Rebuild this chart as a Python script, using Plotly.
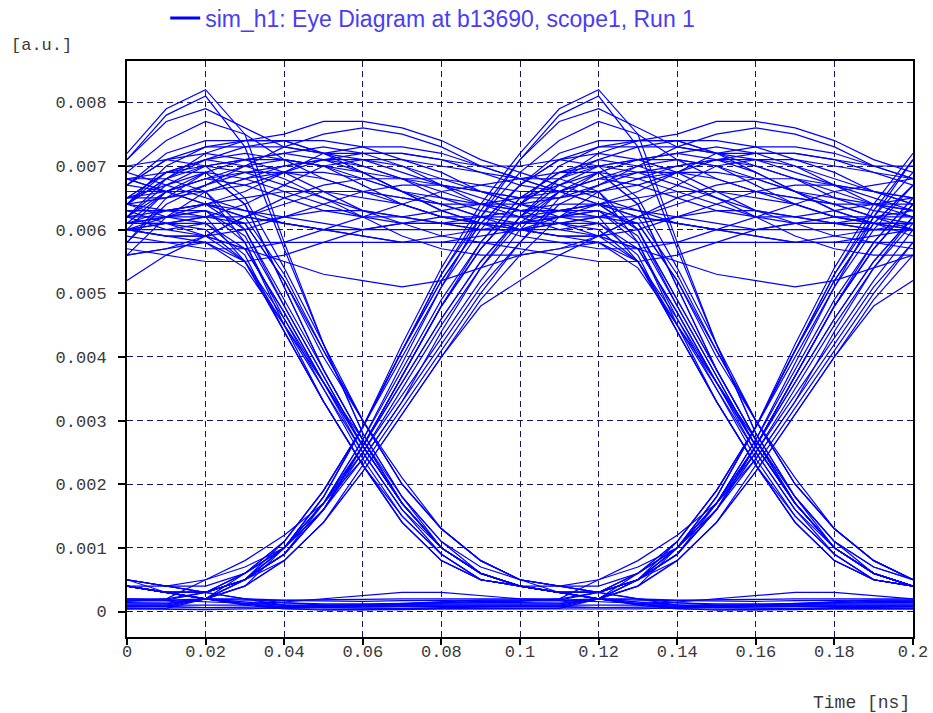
import plotly.graph_objects as go

# ---- time axis of one 2-UI window (ns) ----
t_ns = [0.00, 0.01, 0.02, 0.03, 0.04, 0.05, 0.06, 0.07, 0.08, 0.09, 0.10,
        0.11, 0.12, 0.13, 0.14, 0.15, 0.16, 0.17, 0.18, 0.19, 0.20]

# ---- recorded scope waveform [a.u.], one row = one 0.1 ns unit interval ----
signal_a = [
    [.0064, .0069, .0071, .0072, .0071, .0070, .0069, .0068, .0068, .0067],
    [.0066, .0066, .0066, .0060, .0048, .0037, .0026, .0017, .0010, .0006],
    [.0004, .0004, .0005, .0007, .0010, .0016, .0026, .0037, .0048, .0057],
    [.0064, .0068, .0071, .0073, .0074, .0074, .0073, .0071, .0069, .0066],
    [.0064, .0062, .0061, .0061, .0062, .0063, .0063, .0062, .0061, .0060],
    [.0060, .0061, .0062, .0055, .0044, .0033, .0023, .0014, .0008, .0005],
    [.0004, .0003, .0002, .00015, .0001, .0001, .0001, .00011, .00012, .00012],
    [.00012, .00012, .0002, .0006, .0011, .0019, .0029, .0041, .0053, .0063],
    [.0071, .0078, .0081, .0073, .0057, .0042, .0028, .0018, .0011, .0006],
    [.0004, .0003, .0003, .0006, .0010, .0017, .0026, .0036, .0046, .0055],
    [.0062, .0067, .0070, .0071, .0072, .0073, .0072, .0070, .0067, .0064],
    [.0062, .0060, .0059, .0055, .0045, .0036, .0027, .0018, .0011, .0007],
    [.0005, .0003, .0002, .0002, .00018, .00018, .00019, .0002, .0002, .0002],
    [.0002, .00018, .00016, .00013, .0001, .00009, .0001, .00013, .00016, .00018],
    [.00018, .00018, .0003, .0006, .0010, .0016, .0024, .0033, .0042, .0051],
    [.0058, .0064, .0067, .0069, .0069, .0068, .0066, .0064, .0062, .0061],
]
signal_b = [
    [.0061, .0062, .0064, .0066, .0069, .0072, .0073, .0073, .0072, .0070],
    [.0068, .0066, .0064, .0063, .0062, .0061, .0060, .0060, .0060, .0060],
    [.0060, .0062, .0063, .0061, .0052, .0041, .0030, .0020, .0013, .0008],
    [.0005, .0004, .0004, .0006, .0010, .0017, .0025, .0034, .0043, .0052],
    [.0060, .0066, .0069, .0064, .0051, .0038, .0027, .0017, .0010, .0006],
    [.0004, .0003, .0002, .00012, .00006, .00006, .00005, .00005, .00006, .00007],
    [.00007, .00008, .0002, .0005, .0009, .0016, .0026, .0037, .0048, .0057],
    [.0064, .0070, .0073, .0074, .0074, .0072, .0070, .0068, .0066, .0064],
    [.0063, .0063, .0063, .0058, .0046, .0035, .0024, .0015, .0009, .0005],
    [.0004, .0003, .0003, .0005, .0010, .0018, .0029, .0041, .0052, .0061],
    [.0067, .0071, .0072, .0071, .0069, .0066, .0063, .0061, .0059, .0058],
    [.0057, .0056, .0055, .0055, .0056, .0058, .0060, .0061, .0062, .0062],
    [.0062, .0063, .0064, .0062, .0053, .0041, .0030, .0021, .0013, .0008],
    [.0005, .0004, .0003, .0002, .00014, .0001, .0001, .0001, .0001, .0001],
    [.0001, .0001, .0001, .0001, .00015, .0002, .00025, .0003, .0003, .00025],
    [.0002, .0002, .0003, .0005, .0008, .0014, .0023, .0032, .0041, .0050],
]
signal_c = [
    [.0058, .0065, .0069, .0064, .0051, .0038, .0027, .0017, .0010, .0006],
    [.0004, .0003, .0003, .0005, .0009, .0017, .0027, .0039, .0051, .0062],
    [.0071, .0077, .0079, .0076, .0073, .0072, .0072, .0072, .0071, .0069],
    [.0067, .0066, .0066, .0067, .0069, .0071, .0071, .0070, .0068, .0066],
    [.0064, .0063, .0062, .0062, .0061, .0060, .0059, .0058, .0058, .0059],
    [.0060, .0061, .0061, .0057, .0047, .0036, .0026, .0017, .0010, .0006],
    [.0004, .0003, .0002, .0001, .00004, .00003, .00003, .00004, .00004, .00004],
    [.00004, .00005, .0002, .0005, .0010, .0017, .0026, .0036, .0046, .0055],
    [.0062, .0066, .0068, .0069, .0070, .0071, .0072, .0072, .0071, .0070],
    [.0070, .0071, .0070, .0065, .0054, .0042, .0030, .0020, .0013, .0008],
    [.0005, .0004, .0003, .0005, .0010, .0018, .0029, .0042, .0054, .0064],
    [.0072, .0079, .0082, .0075, .0058, .0042, .0028, .0018, .0010, .0006],
    [.0004, .0003, .0002, .00018, .00017, .00016, .00016, .00017, .00018, .00018],
    [.00018, .00018, .0002, .0004, .0008, .0014, .0022, .0031, .0040, .0048],
    [.0052, .0056, .0059, .0062, .0064, .0066, .0066, .0065, .0064, .0062],
    [.0061, .0061, .0062, .0064, .0067, .0070, .0071, .0071, .0070, .0069],
]
signal_d = [
    [.0068, .0068, .0066, .0058, .0045, .0033, .0023, .0014, .0008, .0005],
    [.0004, .0003, .0002, .00015, .00013, .00012, .00012, .00013, .00014, .00014],
    [.00014, .00013, .0002, .0005, .0011, .0019, .0029, .0040, .0051, .0060],
    [.0067, .0072, .0074, .0074, .0075, .0077, .0077, .0076, .0074, .0071],
    [.0069, .0067, .0065, .0063, .0061, .0060, .0059, .0058, .0058, .0058],
    [.0058, .0058, .0058, .0055, .0046, .0036, .0026, .0017, .0010, .0006],
    [.0004, .0003, .0003, .0005, .0009, .0016, .0026, .0037, .0048, .0058],
    [.0065, .0069, .0070, .0069, .0067, .0065, .0063, .0062, .0061, .0060],
    [.0060, .0060, .0061, .0056, .0044, .0033, .0023, .0014, .0008, .0005],
    [.0004, .0003, .0002, .00012, .00008, .00008, .00008, .00007, .00007, .00008],
    [.00008, .00008, .00006, .00005, .00005, .00006, .00008, .00012, .00015, .00015],
    [.00015, .00015, .0002, .0004, .0008, .0014, .0022, .0031, .0040, .0049],
    [.0056, .0062, .0066, .0068, .0069, .0069, .0068, .0066, .0064, .0062],
    [.0060, .0059, .0058, .0054, .0045, .0035, .0025, .0016, .0010, .0006],
    [.0004, .0003, .0003, .0005, .0009, .0016, .0026, .0037, .0048, .0057],
    [.0064, .0068, .0070, .0071, .0071, .0070, .0068, .0066, .0065, .0064],
]
signal_e = [
    [.0063, .0063, .0064, .0065, .0066, .0066, .0065, .0064, .0062, .0061],
    [.0060, .0059, .0059, .0060, .0062, .0064, .0066, .0067, .0067, .0066],
    [.0065, .0065, .0066, .0068, .0070, .0071, .0070, .0068, .0065, .0063],
    [.0062, .0062, .0062, .0061, .0052, .0040, .0030, .0020, .0013, .0008],
    [.0005, .0004, .0003, .0002, .0001, .00006, .00005, .00005, .00005, .00005],
    [.00005, .00005, .00006, .00007, .00009, .0001, .0001, .0001, .0001, .0001],
    [.0001, .0001, .0002, .0004, .0010, .0018, .0029, .0041, .0052, .0061],
    [.0067, .0071, .0073, .0073, .0073, .0072, .0071, .0069, .0067, .0065],
    [.0063, .0061, .0059, .0057, .0055, .0053, .0052, .0051, .0052, .0054],
    [.0056, .0057, .0058, .0058, .0058, .0058, .0058, .0058, .0059, .0060],
    [.0061, .0063, .0064, .0060, .0049, .0038, .0027, .0017, .0010, .0006],
    [.0004, .0003, .0003, .0006, .0011, .0019, .0029, .0041, .0053, .0062],
    [.0069, .0074, .0077, .0075, .0071, .0068, .0066, .0065, .0064, .0064],
    [.0064, .0065, .0067, .0070, .0073, .0075, .0076, .0075, .0073, .0070],
    [.0068, .0066, .0064, .0062, .0061, .0060, .0060, .0061, .0061, .0061],
    [.0061, .0061, .0060, .0055, .0044, .0033, .0023, .0015, .0009, .0005],
]
signal_f = [
    [.0004, .0003, .0003, .0005, .0010, .0017, .0027, .0038, .0049, .0058],
    [.0065, .0069, .0071, .0070, .0068, .0065, .0062, .0059, .0057, .0056],
    [.0056, .0057, .0059, .0062, .0065, .0067, .0068, .0068, .0067, .0066],
    [.0065, .0066, .0068, .0070, .0071, .0070, .0067, .0064, .0062, .0061],
    [.0061, .0062, .0063, .0059, .0048, .0037, .0026, .0017, .0010, .0006],
    [.0004, .0003, .0003, .0005, .0009, .0016, .0025, .0035, .0045, .0054],
    [.0061, .0066, .0068, .0067, .0065, .0063, .0062, .0062, .0063, .0064],
    [.0065, .0067, .0069, .0071, .0072, .0071, .0069, .0066, .0063, .0061],
    [.0060, .0059, .0059, .0057, .0047, .0036, .0025, .0016, .0009, .0005],
    [.0004, .0003, .0002, .00012, .00005, .00002, .00002, .00003, .00004, .00004],
    [.00004, .00003, .00003, .00004, .00006, .00008, .0001, .00012, .00014, .00016],
    [.00016, .0002, .0005, .0008, .0012, .0017, .0024, .0033, .0044, .0054],
    [.0062, .0068, .0072, .0074, .0074, .0072, .0069, .0066, .0063, .0061],
    [.0059, .0058, .0057, .0057, .0058, .0060, .0062, .0064, .0066, .0067],
    [.0068, .0069, .0069, .0068, .0066, .0064, .0062, .0061, .0061, .0062],
    [.0063, .0064, .0064, .0060, .0049, .0038, .0027, .0018, .0011, .0007],
]
signal_end = [.0005]

# ---- axis ticks ----
x_tick_vals = [0, 0.02, 0.04, 0.06, 0.08, 0.1, 0.12, 0.14, 0.16, 0.18, 0.2]
x_tick_text = ["0", "0.02", "0.04", "0.06", "0.08", "0.1", "0.12", "0.14", "0.16", "0.18", "0.2"]
y_tick_vals = [0, 0.001, 0.002, 0.003, 0.004, 0.005, 0.006, 0.007, 0.008]
y_tick_text = ["0", "0.001", "0.002", "0.003", "0.004", "0.005", "0.006", "0.007", "0.008"]

legend_name = "sim_h1: Eye Diagram at b13690, scope1, Run 1"

# one continuous record, sliced into overlapping 2-UI windows (1 UI step)
signal = []
for block in (signal_a, signal_b, signal_c, signal_d, signal_e, signal_f):
    for ui in block:
        signal.extend(ui)
signal.extend(signal_end)

n_win = len(t_ns)
samples_per_ui = 10

fig = go.Figure()
start = 0
while start + n_win <= len(signal):
    fig.add_trace(go.Scatter(
        x=t_ns, y=signal[start:start + n_win], mode="lines",
        line=dict(color="#0000ff", width=1.2),
        showlegend=False, hoverinfo="skip"))
    start += samples_per_ui

# legend entry
fig.add_trace(go.Scatter(x=[None], y=[None], mode="lines", name=legend_name,
                         line=dict(color="#0000ff", width=3), showlegend=True))

mono = "Liberation Mono, Courier New, monospace"
axis_common = dict(
    showgrid=True, gridcolor="#14146e", gridwidth=1, griddash="6px,4px",
    showline=True, linecolor="black", linewidth=2, mirror=True,
    ticks="outside", tickcolor="black", tickwidth=1.5,
    tickfont=dict(family=mono, size=17, color="#3a3a3a"),
    zeroline=False, fixedrange=True,
)

fig.update_xaxes(range=[0, 0.2], tickvals=x_tick_vals, ticktext=x_tick_text,
                 ticklen=6, ticklabelstandoff=-8, **axis_common)
fig.update_yaxes(range=[-0.0004, 0.00865], tickvals=y_tick_vals, ticktext=y_tick_text,
                 ticklen=7, ticklabelstandoff=8, **axis_common)

fig.update_layout(
    width=933, height=713,
    margin=dict(l=127, r=20, t=61, b=76, autoexpand=False),
    paper_bgcolor="white", plot_bgcolor="white",
    showlegend=True,
    legend=dict(x=0.0486, y=1.0747, xanchor="left", yanchor="middle",
                orientation="h", bgcolor="rgba(0,0,0,0)",
                font=dict(family="Liberation Sans, Arial, sans-serif", size=23,
                          color="#4a3cf5")),
    annotations=[
        dict(text="[a.u.]", xref="paper", yref="paper",
             x=(9 - 127) / 786, y=(637 - 45) / 576, xanchor="left", yanchor="middle",
             showarrow=False, font=dict(family=mono, size=17, color="#3a3a3a")),
        dict(text="Time [ns]", xref="paper", yref="paper",
             x=(912 - 127) / 786, y=(637 - 703) / 576, xanchor="right", yanchor="middle",
             showarrow=False, font=dict(family=mono, size=18, color="#3a3a3a")),
    ],
)

fig.write_html("out.html", config={"displayModeBar": False},
               post_script="document.body.style.margin='0';document.body.style.overflow='hidden';")
